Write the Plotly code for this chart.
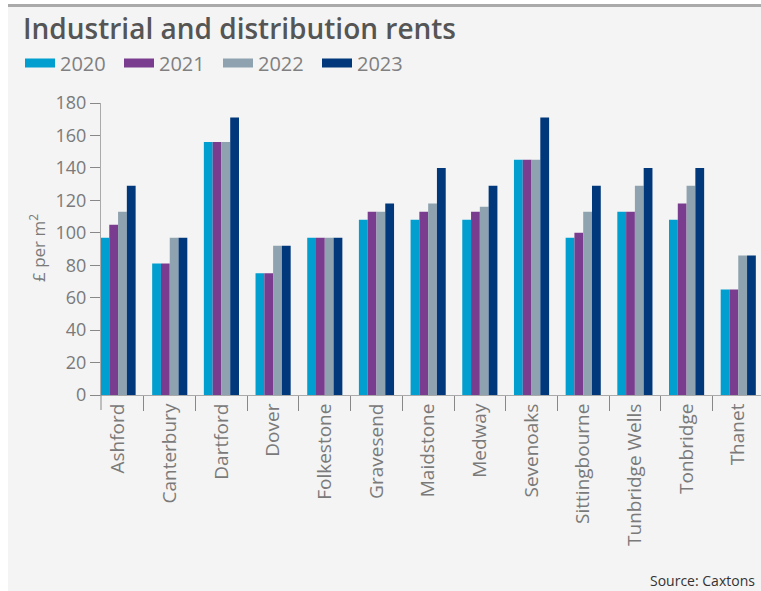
import plotly.graph_objects as go

categories = ["Ashford", "Canterbury", "Dartford", "Dover", "Folkestone", "Gravesend",
              "Maidstone", "Medway", "Sevenoaks", "Sittingbourne", "Tunbridge Wells",
              "Tonbridge", "Thanet"]
y2020 = [97, 81, 156, 75, 97, 108, 108, 108, 145, 97, 113, 108, 65]
y2021 = [105, 81, 156, 75, 97, 113, 113, 113, 145, 100, 113, 118, 65]
y2022 = [113, 97, 156, 92, 97, 113, 118, 116, 145, 113, 129, 129, 86]
y2023 = [129, 97, 171, 92, 97, 118, 140, 129, 171, 129, 140, 140, 86]
series_names = ["2020", "2021", "2022", "2023"]
colors = ["#009fcf", "#7a3c8e", "#8ea2af", "#00387b"]

FONT = "Open Sans"
fig = go.Figure()
for name, vals, col in zip(series_names, [y2020, y2021, y2022, y2023], colors):
    fig.add_trace(go.Bar(x=categories, y=vals, name=name, marker_color=col,
                         marker_line_width=0, showlegend=False))
for name, col in zip(series_names, colors):
    fig.add_trace(go.Scatter(x=[None], y=[None], mode="lines", name=name,
                             line=dict(color=col, width=9), showlegend=True))

W, H = 761, 591
L, R, T, B = 101, 0, 103, 196
pw, ph = W - L - R, H - T - B

def px(x):
    return (x - L) / pw

def py(y):
    return (H - B - y) / ph

fig.update_layout(
    width=W, height=H,
    paper_bgcolor="white", plot_bgcolor="rgba(0,0,0,0)",
    margin=dict(l=L, r=R, t=T, b=B),
    barmode="group", bargap=0.32, bargroupgap=0,
    font=dict(family=FONT, color="#777777"),
    legend=dict(orientation="h", x=px(20), y=py(63), xanchor="left", yanchor="middle",
                font=dict(size=20, color="#808080"), bgcolor="rgba(0,0,0,0)",
                itemwidth=30, tracegroupgap=0, entrywidth=54),
    xaxis=dict(type="category", range=[-0.33, 12.44], tickson="boundaries",
               ticks="outside", ticklen=15, tickcolor="#888888", tickwidth=1,
               showline=True, linecolor="#aaaaaa", linewidth=1,
               tickangle=-90, tickfont=dict(size=19, color="#7a7a7a"),
               showgrid=False),
    yaxis=dict(range=[0, 180], dtick=20, ticks="outside", ticklen=10,
               tickcolor="#888888", showline=True, linecolor="#aaaaaa",
               showgrid=False, zeroline=False,
               tickfont=dict(size=18, color="#7a7a7a")),
    shapes=[
        dict(type="rect", xref="paper", yref="paper", x0=px(8), x1=px(761),
             y0=py(591), y1=py(7), fillcolor="#f4f4f4", line_width=0, layer="below"),
        dict(type="rect", xref="paper", yref="paper", x0=px(8), x1=px(761),
             y0=py(7), y1=py(4), fillcolor="#aaaaaa", line_width=0, layer="below"),
        dict(type="line", xref="paper", yref="paper", x0=0, x1=0,
             y0=0, y1=py(410), line=dict(color="#888888", width=1)),
    ],
    annotations=[
        dict(text="Industrial and distribution rents", xref="paper", yref="paper",
             x=px(21), y=py(28), xanchor="left", yanchor="middle", showarrow=False,
             font=dict(size=28, color="#555555", family=FONT, weight=600)),
        dict(text="£ per m<sup>2</sup>", xref="paper", yref="paper",
             x=px(37), y=py(248), xanchor="center", yanchor="middle", showarrow=False,
             textangle=-90, font=dict(size=17, color="#7a7a7a")),
        dict(text="Source: Caxtons", xref="paper", yref="paper",
             x=px(757), y=py(580), xanchor="right", yanchor="middle", showarrow=False,
             font=dict(size=14, color="#333333")),
    ],
)

fig.write_html("out.html", config={"displayModeBar": False},
               post_script="document.body.style.margin='0';document.body.style.overflow='hidden';")
